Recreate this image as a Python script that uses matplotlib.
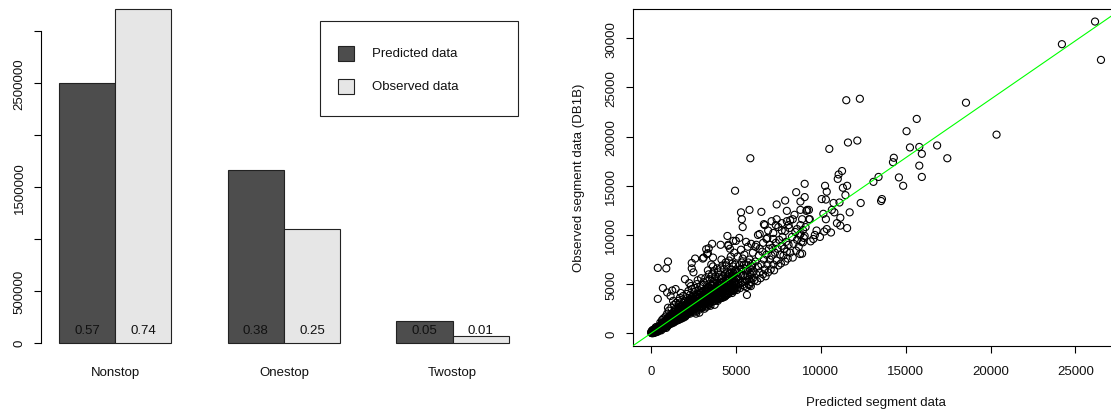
import matplotlib
matplotlib.use('Agg')
import matplotlib.pyplot as plt
from matplotlib.patches import Rectangle

plt.rcParams['font.family'] = ['Liberation Sans', 'DejaVu Sans']

# ---------------- data: left bar chart ----------------
categories = ['Nonstop', 'Onestop', 'Twostop']
predicted = [2497000, 1660000, 209000]
observed = [3213000, 1093000, 60000]
pred_share = ['0.57', '0.38', '0.05']
obs_share = ['0.74', '0.25', '0.01']
series_names = ['Predicted data', 'Observed data']
series_colors = ['#4D4D4D', '#E6E6E6']
y_ticks_left = [0, 500000, 1000000, 1500000, 2000000, 2500000, 3000000]
y_ticklabels_left = ['0', '500000', '', '1500000', '', '2500000', '']

# ---------------- data: right scatter (predicted, observed) ----------------
core_points = [
    (20, 40), (50, 120), (80, 10), (100, 200), (120, 90), (150, 300), (180, 150), (200, 60), (60, 250),
    (140, 20), (30, 180), (170, 380), (90, 330), (210, 240), (250, 100),
    (230, 350), (260, 180), (280, 450), (300, 280), (320, 120), (350, 400), (370, 560), (390, 260),
    (420, 350), (440, 620), (460, 480), (480, 300), (500, 700), (330, 650), (410, 180), (270, 600), (500, 420),
    (520, 560), (540, 800), (560, 380), (580, 650), (600, 900), (620, 520), (640, 720), (660, 1050),
    (680, 600), (700, 820), (720, 480), (740, 950), (760, 700), (780, 1200), (800, 880), (550, 1100),
    (650, 1350), (730, 1500), (600, 300),
    (820, 650), (840, 1000), (860, 1300), (880, 760), (900, 1100), (920, 900), (940, 1450), (960, 700),
    (980, 1200), (1000, 1000), (1020, 1650), (1040, 850), (1060, 1300), (1080, 1100), (1100, 1800),
    (850, 1700), (950, 2000), (1050, 2300), (900, 550), (1000, 2600),
    (1120, 950), (1150, 1400), (1180, 1200), (1200, 1700), (1220, 1000), (1250, 1500), (1270, 2000),
    (1300, 1300), (1320, 1800), (1350, 1100), (1370, 1600), (1400, 2200), (1420, 1400), (1450, 1900),
    (1480, 1250), (1500, 1700), (1200, 2600), (1350, 2900), (1450, 2500), (1300, 3300), (1150, 3800), (1480, 3100),
    (1520, 2100), (1550, 1500), (1570, 1850), (1600, 2400), (1620, 1350), (1650, 2000), (1680, 2700),
    (1700, 1600), (1720, 2200), (1750, 1900), (1780, 2500), (1800, 1500), (1820, 2100), (1850, 2900),
    (1870, 1800), (1900, 2300), (1920, 1600), (1950, 2600), (1980, 2000), (2000, 2350), (1600, 3300),
    (1700, 3600), (1800, 3200), (1900, 3800), (1750, 4100), (1650, 2900), (1950, 3300),
    (2020, 1700), (2050, 2700), (2080, 2200), (2100, 3000), (2130, 1900), (2150, 2500), (2180, 3300),
    (2200, 2100), (2230, 2800), (2250, 2400), (2280, 3500), (2300, 2000), (2330, 2700), (2350, 3100),
    (2380, 2300), (2400, 2800), (2420, 3700), (2450, 2600), (2480, 2200), (2500, 3000), (2100, 4000),
    (2200, 4300), (2300, 3900), (2400, 4500), (2450, 3400), (2150, 3600), (2350, 4800), (2250, 5100),
    (2520, 2400), (2550, 3300), (2580, 2800), (2600, 3700), (2630, 2200), (2650, 3000), (2680, 3500),
    (2700, 2600), (2720, 4000), (2750, 3200), (2780, 2800), (2800, 3600), (2830, 2400), (2850, 3900),
    (2880, 3100), (2900, 3400), (2920, 2700), (2950, 4200), (2980, 3000), (3000, 3500), (2600, 4600),
    (2700, 5000), (2800, 4400), (2900, 4800), (2750, 5400), (2550, 4200), (2950, 5600), (2650, 2000), (2850, 2100),
    (3020, 2600), (3050, 3800), (3080, 3200), (3100, 4300), (3130, 2900), (3150, 3600), (3180, 4000),
    (3200, 3000), (3230, 4500), (3250, 3400), (3280, 2700), (3300, 3900), (3330, 3300), (3350, 4700),
    (3380, 3600), (3400, 4100), (3420, 2900), (3450, 3800), (3480, 5000), (3500, 3300), (3100, 5200),
    (3200, 5600), (3300, 5300), (3400, 6000), (3450, 5500), (3050, 4900), (3350, 6400), (3150, 2500), (3500, 2800),
    (3520, 4300), (3550, 3700), (3580, 4800), (3600, 3200), (3630, 4000), (3650, 5200), (3680, 3500),
    (3700, 4500), (3730, 3900), (3750, 5500), (3780, 3300), (3800, 4200), (3830, 4700), (3850, 3700),
    (3880, 5100), (3900, 4000), (3930, 3300), (3950, 4600), (3980, 5700), (4000, 4300), (3600, 6000),
    (3700, 6300), (3800, 5800), (3900, 6600), (3650, 6800), (3950, 6200), (3750, 2900), (3550, 7000),
    (4020, 3500), (4050, 4900), (4080, 4100), (4100, 5500), (4130, 3800), (4150, 4600), (4180, 5200),
    (4200, 3600), (4230, 4400), (4250, 5800), (4280, 4000), (4300, 5000), (4330, 3700), (4350, 4700),
    (4380, 6000), (4400, 4300), (4430, 5400), (4450, 3900), (4480, 5000), (4500, 6200), (4100, 6600),
    (4200, 6900), (4300, 6500), (4400, 7200), (4150, 7500), (4450, 6900),
    (4520, 4100), (4550, 5300), (4580, 4700), (4600, 6000), (4630, 4300), (4650, 5600), (4680, 5000),
    (4700, 6500), (4730, 4500), (4750, 5800), (4780, 4100), (4800, 5400), (4830, 6800), (4850, 4800),
    (4880, 5900), (4900, 4400), (4930, 6300), (4950, 5200), (4980, 7000), (5000, 5600), (4600, 7400),
    (4700, 7800), (4800, 7100), (4900, 8200), (4650, 8600), (4550, 9000),
]

core_points_fill = [
    (10, 100), (40, 20), (70, 180), (110, 60), (130, 250), (160, 110), (190, 280), (220, 160), (240, 300),
    (290, 220), (310, 380), (340, 250), (360, 470), (380, 330), (400, 520), (430, 400), (450, 300),
    (470, 580), (490, 450),
    (510, 450), (530, 700), (570, 520), (590, 850), (610, 640), (630, 950), (670, 780), (690, 560),
    (710, 1000), (750, 620), (770, 880), (790, 1100), (810, 750), (830, 1200), (870, 900), (890, 1350),
    (910, 700), (930, 1050), (970, 1300), (990, 850), (1010, 1150), (1030, 1450), (1070, 950), (1090, 1550),
    (1110, 1250), (1130, 1650), (1160, 1050), (1190, 1500), (1210, 1900), (1240, 1250), (1260, 1650),
    (1290, 1150), (1310, 2100), (1340, 1450), (1360, 1950), (1390, 1300), (1410, 1750), (1440, 2350),
    (1460, 1550), (1490, 2050),
    (1510, 1350), (1540, 1800), (1560, 2250), (1590, 1600), (1610, 2000), (1640, 2500), (1660, 1700),
    (1690, 2150), (1710, 1450), (1740, 2400), (1760, 1750), (1790, 2800), (1810, 1950), (1840, 2350),
    (1860, 1650), (1890, 2650), (1910, 2000), (1940, 2200), (1960, 1800), (1990, 2800),
    (2010, 2050), (2040, 2450), (2060, 1850), (2090, 2650), (2110, 2300), (2140, 3100), (2160, 2100),
    (2190, 2650), (2210, 2950), (2240, 2200), (2260, 3200), (2290, 2550), (2310, 2900), (2340, 2150),
    (2360, 3400), (2390, 2600), (2410, 3000), (2440, 2400), (2460, 3300), (2490, 2750),
    (2510, 3500), (2540, 2600), (2560, 3100), (2590, 2450), (2610, 3400), (2640, 2800), (2660, 3800),
    (2690, 3100), (2710, 2400), (2740, 3500), (2760, 2900), (2790, 4000), (2810, 3300), (2840, 2700),
    (2860, 3600), (2890, 3000), (2910, 4100), (2940, 3200), (2960, 2600), (2990, 3800),
    (3010, 3100), (3040, 4200), (3060, 2800), (3090, 3500), (3110, 3900), (3140, 3200), (3160, 4400),
    (3190, 3400), (3210, 2800), (3240, 3800), (3260, 4200), (3290, 3100), (3310, 4600), (3340, 3500),
    (3360, 3000), (3390, 4300), (3410, 3700), (3440, 4500), (3460, 3100), (3490, 4000),
    (3510, 3600), (3540, 4600), (3560, 3400), (3590, 4200), (3610, 3800), (3640, 4900), (3660, 3300),
    (3690, 4300), (3710, 3700), (3740, 5000), (3760, 3500), (3790, 4500), (3810, 3900), (3840, 5300),
    (3860, 3400), (3890, 4700), (3910, 4200), (3940, 3600), (3960, 5000), (3990, 3900),
    (4010, 4600), (4040, 3700), (4060, 5100), (4090, 4300), (4110, 3600), (4140, 4900), (4160, 4100),
    (4190, 5600), (4210, 3800), (4240, 4700), (4260, 4200), (4290, 5300), (4310, 3900), (4340, 5000),
    (4360, 4500), (4390, 3800), (4410, 5600), (4440, 4600), (4460, 4100), (4490, 5400),
    (4510, 4400), (4540, 5700), (4560, 4000), (4590, 5100), (4610, 4600), (4640, 6100), (4660, 4200),
    (4690, 5300), (4710, 4800), (4740, 6200), (4760, 4400), (4790, 5600), (4810, 4900), (4840, 4300),
    (4860, 6100), (4890, 5100), (4910, 4600), (4940, 5800), (4960, 4500), (4990, 6400),
    (5020, 5000), (5060, 6200), (5120, 4700), (5170, 5500), (5220, 6900), (5280, 5100), (5330, 6500),
    (5380, 4900), (5430, 5900), (5480, 7000), (5530, 5300), (5580, 6300), (5630, 4700), (5680, 5900),
    (5730, 7200), (5780, 5500), (5830, 6600), (5880, 4800), (5930, 6200), (5980, 7100),
]

spread_points = [
    (5050, 4400), (5100, 5800), (5150, 5000), (5200, 6500), (5250, 4600), (5300, 6000), (5350, 7200),
    (5400, 5200), (5450, 6600), (5500, 4800), (5550, 5800), (5600, 7000), (5650, 5400), (5700, 6400),
    (5750, 5000), (5800, 7500), (5850, 6000), (5900, 5200), (5950, 6800), (6000, 5600), (5100, 7800),
    (5300, 8500), (5500, 8000), (5700, 8800), (5900, 9100), (5200, 9700), (5600, 9300), (6000, 8200),
    (5400, 7600), (5800, 4900), (5650, 3900),
    (6050, 6300), (6100, 5400), (6150, 7300), (6200, 6000), (6250, 5300), (6300, 6800), (6350, 7900),
    (6400, 6200), (6450, 5600), (6500, 7000), (6550, 8300), (6600, 6000), (6650, 7500), (6700, 6500),
    (6750, 5800), (6800, 8000), (6850, 7000), (6900, 6200), (6950, 8600), (7000, 7500), (6200, 9000),
    (6400, 8600), (6600, 9200), (6800, 9600), (7000, 9000), (6300, 10000), (6700, 11000), (6150, 8800),
    (7050, 6500), (7100, 7900), (7150, 8700), (7200, 7000), (7250, 6400), (7300, 8200), (7350, 9200),
    (7400, 7400), (7450, 8600), (7500, 6900), (7550, 9500), (7600, 8000), (7650, 7100), (7700, 8900),
    (7750, 9800), (7800, 7900), (7850, 8600), (7900, 7300), (7950, 9300), (8000, 8300), (7200, 10200),
    (7500, 10800), (7700, 11200), (7400, 11600), (7900, 10400),
    (8050, 7600), (8100, 9000), (8200, 8200), (8300, 9800), (8350, 7700), (8400, 9100), (8500, 10300),
    (8550, 8400), (8600, 9500), (8700, 8800), (8750, 10000), (8800, 11000), (8850, 9300), (8900, 8100),
    (8950, 10500), (9000, 9700), (8200, 11500), (8100, 11000), (8780, 8060), (9560, 9590),
    (5850, 17800), (4950, 14500), (8550, 14350), (8800, 13400), (7900, 13500), (7400, 13100),
    (5300, 12300), (5800, 12550), (5350, 11600), (5400, 10800), (6500, 12350), (8000, 12450),
    (8800, 12550), (9200, 12550), (9300, 11600), (8450, 12050), (8350, 11600), (8000, 11400),
    (7100, 11400), (7350, 11000), (6650, 11100), (7700, 10450), (8150, 10700), (8600, 10600),
    (8800, 10100), (9100, 10800), (6900, 10450), (6400, 10100), (6850, 9700), (7200, 9600),
    (4500, 9900), (4850, 9400), (5000, 9400), (3600, 9100), (4100, 9000), (4550, 8900), (3100, 7700),
    (3300, 8050), (3650, 7700), (3250, 8550), (400, 6650), (900, 6600), (1000, 7300), (700, 4600),
    (400, 3500), (3400, 8650), (3350, 8150), (3050, 7600), (2600, 7600), (2400, 7150), (2400, 6600),
    (2500, 6200), (2000, 5500), (1250, 4350), (1450, 4500), (950, 4150),
]

outlier_points = [
    (11500, 23700), (12300, 23850), (15650, 21800), (15050, 20550), (12150, 19600), (11600, 19400),
    (10500, 18750), (15250, 18900), (15800, 18950), (15950, 18250), (16850, 19100), (17450, 17800),
    (14300, 17850), (14250, 17400), (15800, 17050), (15950, 15900), (14600, 15850), (14850, 15000),
    (13400, 15900), (13100, 15400), (11250, 16500), (11050, 16150), (11000, 15700), (11550, 15000),
    (11300, 14800), (9050, 15200), (10250, 15000), (10350, 14400), (11450, 14050), (10050, 13650),
    (10300, 13600), (9050, 13850), (12350, 13250), (13600, 13650), (13550, 13450), (10750, 13250),
    (11100, 13300), (11700, 12300), (10650, 12550), (10800, 12300), (10150, 12150), (9300, 12550),
    (9150, 12450), (11150, 11750), (10300, 11600), (8900, 11600), (9350, 11600), (10950, 11200),
    (11550, 10700), (11150, 10950), (10350, 10600), (9750, 10450), (10200, 10350), (10600, 10250),
    (9650, 10000), (9950, 9800), (9400, 9350), (9050, 9900), (8950, 9250),
    (18550, 23450), (20350, 20200), (24200, 29400), (26150, 31700), (26500, 27800),
]

fit_slope = 1.19
x_ticks_right = [0, 5000, 10000, 15000, 20000, 25000]
y_ticks_right = [0, 5000, 10000, 15000, 20000, 25000, 30000]

# ---------------- figure ----------------
W, H = 1111, 410
fig = plt.figure(figsize=(W / 100, H / 100), dpi=100)


def px_axes(left, top, right, bottom):
    return fig.add_axes([left / W, 1 - bottom / H, (right - left) / W, (bottom - top) / H])


FS = 9.5
TXT = '#111111'

# ---- left panel: grouped bars ----
ax1 = px_axes(41, 0, 527, 357)
group_starts = [1 + 3 * i for i in range(len(categories))]
ax1.bar(group_starts, predicted, width=1, align='edge', color=series_colors[0],
        edgecolor='#222222', linewidth=0.8)
ax1.bar([g + 1 for g in group_starts], observed, width=1, align='edge', color=series_colors[1],
        edgecolor='#222222', linewidth=0.8)
for g, ps, os_ in zip(group_starts, pred_share, obs_share):
    ax1.text(g + 0.5, 120000, ps, ha='center', va='center', fontsize=FS, color=TXT)
    ax1.text(g + 1.5, 120000, os_, ha='center', va='center', fontsize=FS, color=TXT)
ax1.set_xlim(0.68, 9.32)
ax1.set_ylim(-127900, 3305000)
ax1.set_xticks([g + 1 for g in group_starts])
ax1.set_xticklabels(categories, fontsize=FS, color=TXT)
ax1.tick_params(axis='x', length=0, pad=7)
ax1.set_yticks(y_ticks_left)
ax1.set_yticklabels(y_ticklabels_left, rotation=90, va='center', fontsize=FS, color=TXT)
ax1.tick_params(axis='y', length=5, width=0.8, pad=6)
for s in ['top', 'right', 'bottom']:
    ax1.spines[s].set_visible(False)
ax1.spines['left'].set_bounds(0, 3000000)
ax1.spines['left'].set_linewidth(0.8)
ax1.patch.set_alpha(0)

# ---- right panel: scatter ----
ax2 = px_axes(632.7, 10, 1120, 346.7)
for pts in (core_points, core_points_fill, spread_points, outlier_points):
    xs = [p[0] for p in pts]
    ys = [p[1] for p in pts]
    ax2.scatter(xs, ys, s=26, facecolors='none', edgecolors='black', linewidths=0.8, zorder=2)
ax2.axline((0, 0), slope=fit_slope, color='#00FF00', linewidth=0.8, zorder=3)
ax2.set_xlim(-1078, 27621)
ax2.set_ylim(-1261, 32977)
ax2.set_xticks(x_ticks_right)
ax2.set_xticklabels([str(v) for v in x_ticks_right], fontsize=FS, color=TXT)
ax2.set_yticks(y_ticks_right)
ax2.set_yticklabels([str(v) for v in y_ticks_right], rotation=90, va='center', fontsize=FS, color=TXT)
ax2.tick_params(axis='x', length=5, width=0.8, pad=9)
ax2.tick_params(axis='y', length=5, width=0.8, pad=6)
for s in ax2.spines.values():
    s.set_linewidth(0.8)
fig.text(876 / W, 1 - 403 / H, 'Predicted segment data', ha='center', va='center', fontsize=FS, color=TXT)
fig.text(579 / W, 1 - 178 / H, 'Observed segment data (DB1B)', ha='center', va='center',
         rotation=90, fontsize=FS, color=TXT)

# ---- legend (drawn in figure pixel space) ----
ov = fig.add_axes([0, 0, 1, 1])
ov.set_xlim(0, W)
ov.set_ylim(H, 0)
ov.axis('off')
ov.add_patch(Rectangle((320, 22), 198, 95, fill=False, edgecolor='#222222', linewidth=0.8))
for i, (name, col) in enumerate(zip(series_names, series_colors)):
    yc = 54 + 33 * i
    ov.add_patch(Rectangle((338, yc - 7.5), 16, 15, facecolor=col, edgecolor='#222222', linewidth=0.8))
    ov.text(372, yc, name, ha='left', va='center', fontsize=FS, color=TXT)

fig.savefig('out.png', dpi=100)
